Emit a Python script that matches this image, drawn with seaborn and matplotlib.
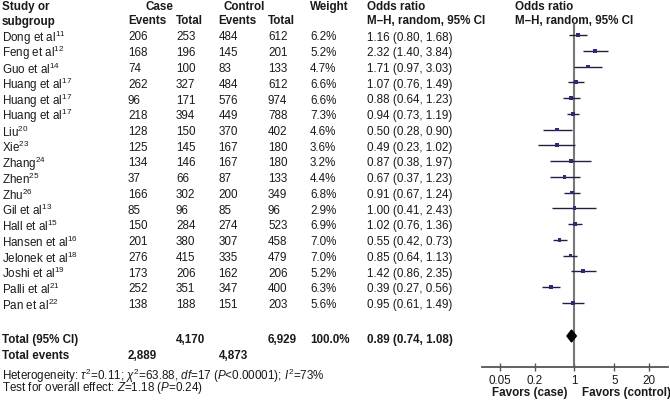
import numpy as np
import pandas as pd
import matplotlib
matplotlib.use("Agg")
import matplotlib.pyplot as plt
import seaborn as sns

# ---------------- data ----------------
studies = ["Dong et al", "Feng et al", "Guo et al", "Huang et al", "Huang et al", "Huang et al",
           "Liu", "Xie", "Zhang", "Zhen", "Zhu", "Gil et al", "Hall et al", "Hansen et al",
           "Jelonek et al", "Joshi et al", "Palli et al", "Pan et al"]
refs = ["11", "12", "14", "17", "17", "17", "20", "23", "24", "25", "26", "13", "15", "16",
        "18", "19", "21", "22"]
case_events = [206, 168, 74, 262, 96, 218, 128, 125, 134, 37, 166, 85, 150, 201, 276, 173, 252, 138]
case_total = [253, 196, 100, 327, 171, 394, 150, 145, 146, 66, 302, 96, 284, 380, 415, 206, 351, 188]
ctrl_events = [484, 145, 83, 484, 576, 449, 370, 167, 167, 87, 200, 85, 274, 307, 335, 162, 347, 151]
ctrl_total = [612, 201, 133, 612, 974, 788, 402, 180, 180, 133, 349, 96, 523, 458, 479, 206, 400, 203]
weights = ["6.2%", "5.2%", "4.7%", "6.6%", "6.6%", "7.3%", "4.6%", "3.6%", "3.2%", "4.4%",
           "6.8%", "2.9%", "6.9%", "7.0%", "7.0%", "5.2%", "6.3%", "5.6%"]
odds = [1.16, 2.32, 1.71, 1.07, 0.88, 0.94, 0.50, 0.49, 0.87, 0.67, 0.91, 1.00, 1.02, 0.55,
        0.85, 1.42, 0.39, 0.95]
ci_low = [0.80, 1.40, 0.97, 0.76, 0.64, 0.73, 0.28, 0.23, 0.38, 0.37, 0.67, 0.41, 0.76, 0.42,
          0.64, 0.86, 0.27, 0.61]
ci_high = [1.68, 3.84, 3.03, 1.49, 1.23, 1.19, 0.90, 1.02, 1.97, 1.23, 1.24, 2.43, 1.36, 0.73,
           1.13, 2.35, 0.56, 1.49]
total_case, total_ctrl = "4,170", "6,929"
events_case, events_ctrl = "2,889", "4,873"
total_or, total_lo, total_hi = 0.89, 0.74, 1.08
tick_vals = [0.05, 0.2, 1, 5, 20]
tick_labels = ["0.05", "0.2", "1", "5", "20"]

# ---------------- style ----------------
sns.set_theme(style="white")
plt.rcParams["font.family"] = ["Liberation Sans", "DejaVu Sans"]
plt.rcParams["mathtext.fontset"] = "custom"
plt.rcParams["mathtext.rm"] = "Liberation Sans"
plt.rcParams["mathtext.it"] = "Liberation Sans:italic"
plt.rcParams["mathtext.bf"] = "Liberation Sans:bold"
plt.rcParams["mathtext.default"] = "regular"

FS = 8.4
TXT = "#1a1a1a"
W, H = 670, 402
fig = plt.figure(figsize=(6.7, 4.02), dpi=100)

# text layer in pixel coordinates
at = fig.add_axes([0, 0, 1, 1])
at.set_xlim(0, W)
at.set_ylim(H, 0)
at.axis("off")

row0, dy = 37.5, 15.75
rows = [row0 + i * dy for i in range(len(studies))]

# columns
x_study, x_ce, x_ct, x_oe, x_ot, x_w, x_or = 2, 128, 176, 218.5, 268, 310, 367

def t(x, y, s, bold=False, ha="left", size=FS):
    at.text(x, y, s, ha=ha, va="center", fontsize=size, color=TXT,
            fontweight="bold" if bold else "normal")

# headers
t(x_study, 7, "Study or", bold=True)
t(x_study, 21.5, "subgroup", bold=True)
t(159, 7, "Case", bold=True, ha="center")
t(244, 7, "Control", bold=True, ha="center")
t(x_ce, 21.5, "Events", bold=True)
t(x_ct, 21.5, "Total", bold=True)
t(x_oe, 21.5, "Events", bold=True)
t(x_ot, 21.5, "Total", bold=True)
t(x_w, 7, "Weight", bold=True)
t(x_or, 7, "Odds ratio", bold=True)
t(x_or, 21.5, "M–H, random, 95% CI", bold=True)
t(515, 7, "Odds ratio", bold=True)
t(515, 21.5, "M–H, random, 95% CI", bold=True)

for i, y in enumerate(rows):
    t(x_study, y, studies[i] + r"$^{" + refs[i] + "}$")
    t(x_ce, y, str(case_events[i]))
    t(x_ct, y, str(case_total[i]))
    t(x_oe, y, str(ctrl_events[i]))
    t(x_ot, y, str(ctrl_total[i]))
    t(x_w, y, weights[i])
    t(x_or, y, f"{odds[i]:.2f} ({ci_low[i]:.2f}, {ci_high[i]:.2f})")

y_tot = 340
t(x_study, y_tot, "Total (95% CI)", bold=True)
t(x_ct, y_tot, total_case, bold=True)
t(x_ot, y_tot, total_ctrl, bold=True)
t(x_w, y_tot, "100.0%", bold=True)
t(x_or, y_tot, f"{total_or:.2f} ({total_lo:.2f}, {total_hi:.2f})", bold=True)
y_ev = 356.5
t(x_study, y_ev, "Total events", bold=True)
t(x_ce, y_ev, events_case, bold=True)
t(x_oe, y_ev, events_ctrl, bold=True)
t(x_study, 375.5, r"Heterogeneity: $\mathit{\tau}^{2}$=0.11; $\mathit{\chi}^{2}$=63.88, "
                  r"$\mathit{df}$=17 ($\mathit{P}$<0.00001); $\mathit{I}^{2}$=73%")
t(x_study, 388, r"Test for overall effect: $\mathit{Z}$=1.18 ($\mathit{P}$=0.24)")

# ---------------- forest axes ----------------
ax_left, ax_right, ax_y = 481.7, 668, 368.3
ax = fig.add_axes([ax_left / W, (H - ax_y) / H, (ax_right - ax_left) / W, ax_y / H])
ax.patch.set_alpha(0)
ax.set_xscale("log")
ax.set_xlim(10 ** -1.625, 10 ** 1.64)
ax.set_ylim(ax_y, 0)

ax.vlines(1, 25, ax_y, color="#777777", lw=1.5, zorder=1)
ax.hlines([y - 1.5 for y in rows], ci_low, ci_high, color="#1f1f3f", lw=1.0, zorder=2)
df = pd.DataFrame({"or": odds, "y": [y - 1.5 for y in rows]})
sns.scatterplot(data=df, x="or", y="y", marker="s", s=7, color="#2d2a78",
                edgecolor="none", ax=ax, legend=False, zorder=3)
yd = y_tot - 3
ax.fill([total_lo, total_or, total_hi, total_or], [yd, yd - 6, yd, yd + 6],
        color="black", zorder=4)

for s in ["left", "right", "top"]:
    ax.spines[s].set_visible(False)
ax.spines["bottom"].set_color("#555555")
ax.spines["bottom"].set_linewidth(1.3)
ax.set_yticks([])
ax.set_xticks(tick_vals)
ax.set_xticklabels(tick_labels)
ax.minorticks_off()
ax.xaxis.set_minor_locator(matplotlib.ticker.NullLocator())
ax.tick_params(axis="x", direction="inout", length=6, width=1, color="#555555",
               pad=2, labelsize=FS, labelcolor=TXT, bottom=True)
ax.set_xlabel("")
ax.set_ylabel("")

t(567, 393.5, "Favors (case)", bold=True, ha="right")
t(582, 393.5, "Favors (control)", bold=True, ha="left")

fig.savefig("out.png", dpi=100)
